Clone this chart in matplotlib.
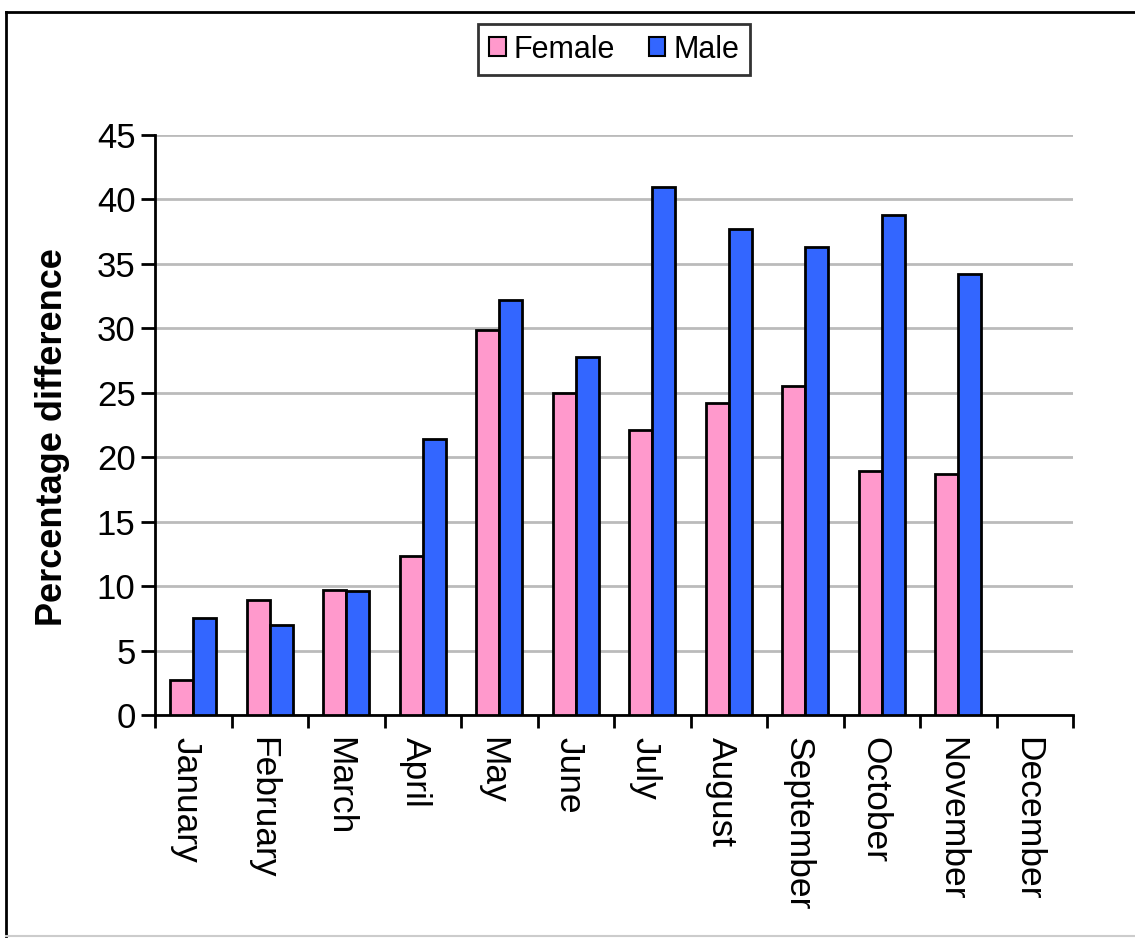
import numpy as np
import matplotlib
matplotlib.use("Agg")
import matplotlib.pyplot as plt
import matplotlib.transforms as mtransforms
from matplotlib.patches import Patch
from matplotlib.lines import Line2D

plt.rcParams["font.family"] = ["Liberation Sans", "DejaVu Sans"]

months = ["January", "February", "March", "April", "May", "June", "July",
          "August", "September", "October", "November", "December"]
female = [2.7, 8.9, 9.7, 12.3, 29.9, 25.0, 22.1, 24.2, 25.5, 18.9, 18.7, np.nan]
male = [7.5, 7.0, 9.6, 21.4, 32.2, 27.8, 41.0, 37.7, 36.3, 38.8, 34.2, np.nan]
yticks = list(range(0, 50, 5))

pink = "#FF99CC"
blue = "#3366FF"

fig = plt.figure(figsize=(11.35, 9.38), dpi=100)
ax = fig.add_axes([155 / 1135, 1 - 715 / 938, (1073 - 155) / 1135, (715 - 135) / 938])

x = np.arange(len(months)) + 0.5
w = 0.3
ax.bar(x - w / 2, female, w, color=pink, edgecolor="black", linewidth=2, zorder=3)
ax.bar(x + w / 2, male, w, color=blue, edgecolor="black", linewidth=2, zorder=3)

ax.set_xlim(0, len(months))
ax.set_ylim(0, 45)
ax.set_yticks(yticks)
ax.set_xticks(np.arange(len(months) + 1))
ax.set_xticklabels([])
ax.set_xticks(x, minor=True)
ax.set_xticklabels(months, minor=True, rotation=270, fontsize=25.5)
ax.tick_params(axis="x", which="minor", length=0, pad=16)
ax.tick_params(axis="x", which="major", length=9, width=2, direction="out")
ax.tick_params(axis="y", length=10, width=2, direction="out", labelsize=25, pad=4)

# month labels sit a little left of the category centre in the original
shift = mtransforms.ScaledTranslation(-7 / 100, 0, fig.dpi_scale_trans)
for lbl in ax.get_xticklabels(minor=True):
    lbl.set_transform(lbl.get_transform() + shift)

ax.yaxis.grid(True, color="#BBBBBB", linewidth=2)
ax.set_axisbelow(True)
for s in ["top", "right"]:
    ax.spines[s].set_visible(False)
for s in ["left", "bottom"]:
    ax.spines[s].set_linewidth(2)

ax.set_ylabel("Percentage difference", fontsize=26, fontweight="bold")
ax.yaxis.set_label_coords((70 - 155) / 918, 0.48)

handles = [Patch(facecolor=pink, edgecolor="black", linewidth=1.5),
           Patch(facecolor=blue, edgecolor="black", linewidth=1.5)]
leg = fig.legend(handles, ["Female", "Male"], loc="center", ncol=2,
                 bbox_to_anchor=(614 / 1135, 1 - 49.5 / 938), fontsize=22,
                 frameon=True, fancybox=False, edgecolor="black",
                 handlelength=0.55, handleheight=0.55, handletextpad=0.25,
                 columnspacing=1.1, borderpad=0.35)
leg.get_frame().set_linewidth(2)

# outer chart border
fig.add_artist(Line2D([6 / 1135, 6 / 1135], [1 - 12 / 938, 1 - 936 / 938], color="black", lw=2))
fig.add_artist(Line2D([6 / 1135, 1.0], [1 - 12 / 938, 1 - 12 / 938], color="black", lw=2))
fig.add_artist(Line2D([6 / 1135, 1.0], [1 - 936 / 938, 1 - 936 / 938], color="#CCCCCC", lw=1.5))

fig.savefig("out.png", dpi=100)
